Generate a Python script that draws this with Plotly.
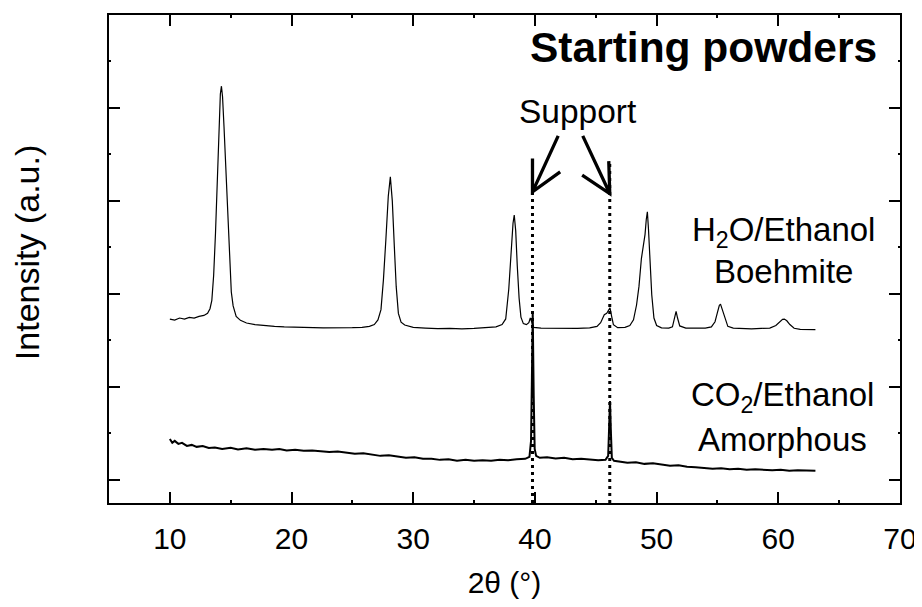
import plotly.graph_objects as go

# ---- data ----
two_theta_boehmite = [
    10.0, 10.4, 10.8, 11.2, 11.6, 12.0, 12.4, 12.8, 13.1, 13.3, 13.45, 13.6, 13.75, 13.9, 14.05,
    14.15, 14.24, 14.33, 14.45, 14.6, 14.75, 14.9, 15.05, 15.2, 15.45, 15.8, 16.3, 17.0, 17.8,
    18.6, 19.4, 20.2, 21.0, 21.8, 22.6, 23.4, 24.2, 25.0, 25.8, 26.4, 26.8, 27.1, 27.35, 27.55,
    27.75, 27.95, 28.12, 28.28, 28.45, 28.6, 28.78, 29.0, 29.3, 30.0, 31.0, 32.0, 33.0, 34.0,
    35.0, 36.0, 36.8, 37.3, 37.6, 37.85, 38.05, 38.2, 38.3, 38.42, 38.55, 38.7, 38.85, 39.05,
    39.3, 39.5, 39.62, 39.75, 39.9, 40.5, 41.5, 42.5, 43.5, 44.5, 45.1, 45.4, 45.7, 45.9, 46.05,
    46.17, 46.3, 46.45, 46.8, 47.4, 47.8, 48.1, 48.35, 48.55, 48.75, 48.9, 49.05, 49.15, 49.24,
    49.33, 49.45, 49.6, 49.78, 50.0, 50.4, 51.0, 51.3, 51.5, 51.6, 51.72, 51.9, 52.4, 53.2, 54.0,
    54.5, 54.8, 55.0, 55.15, 55.25, 55.4, 55.6, 55.85, 56.3, 57.0, 57.8, 58.6, 59.3, 59.8, 60.1,
    60.35, 60.5, 60.7, 60.95, 61.3, 61.8, 62.4, 63.05,
]
intensity_boehmite = [
    1729, 1718, 1740, 1729, 1747, 1740, 1758, 1768, 1790, 1840, 1930, 2200, 2650, 3250, 3900,
    4150, 4234, 4120, 3800, 3350, 2800, 2347, 2020, 1870, 1758, 1715, 1686, 1670, 1658,
    1651, 1645, 1640, 1642, 1636, 1634, 1632, 1632, 1636, 1640, 1651, 1670, 1720, 1830, 2150,
    2580, 3050, 3258, 3000, 2500, 2080, 1790, 1695, 1665, 1640, 1632, 1626, 1629, 1624,
    1629, 1634, 1645, 1670, 1730, 2050, 2480, 2760, 2848, 2680, 2300, 1954, 1750, 1680,
    1669, 1690, 1740, 1680, 1640, 1632, 1629, 1632, 1629, 1634, 1650, 1690, 1776, 1790, 1820,
    1850, 1760, 1669, 1636, 1640, 1660, 1720, 1880, 2080, 2380, 2526, 2640, 2800, 2883,
    2700, 2380, 1990, 1740, 1660, 1634, 1632, 1645, 1760, 1811, 1740, 1655, 1632, 1629, 1632,
    1645, 1700, 1800, 1875, 1890, 1835, 1740, 1650, 1632, 1626, 1624, 1629, 1632, 1660, 1700,
    1725, 1729, 1710, 1670, 1630, 1618, 1620, 1615,
]

two_theta_amorphous = [
    10.0, 10.2, 10.4, 10.7, 11.0, 11.4, 11.8, 12.2, 12.7, 13.2, 13.7, 14.3, 15.0, 15.6, 16.3,
    17.0, 17.7, 18.4, 19.0, 19.6, 20.3, 21.0, 21.7, 22.4, 23.1, 23.8, 24.5, 25.2, 25.9, 26.6,
    27.3, 28.0, 28.7, 29.4, 30.1, 30.8, 31.5, 32.2, 32.9, 33.6, 34.3, 35.0, 35.7, 36.4, 37.1,
    37.8, 38.5, 39.2, 39.55, 39.68, 39.75, 39.82, 39.9, 39.98, 40.1, 40.4, 41.0, 41.7, 42.4,
    43.1, 43.8, 44.5, 45.2, 45.8, 46.02, 46.1, 46.17, 46.24, 46.32, 46.5, 47.0, 47.6, 48.3,
    49.0, 49.7, 50.4, 51.1, 51.8, 52.5, 53.2, 53.9, 54.6, 55.3, 56.0, 56.7, 57.4, 58.1, 58.8,
    59.5, 60.2, 60.9, 61.6, 62.3, 63.05,
]
intensity_amorphous = [
    439, 397, 418, 386, 397, 364, 375, 354, 364, 343, 348, 332, 343, 327, 338,
    322, 332, 322, 332, 316, 322, 311, 316, 305, 300, 305, 289, 279, 284, 268,
    257, 263, 247, 236, 241, 225, 225, 214, 220, 204, 214, 204, 209, 204, 214,
    209, 220, 225, 247, 418, 1061, 1790, 900, 332, 257, 236, 241, 230, 236,
    220, 225, 214, 209, 214, 257, 579, 847, 525, 236, 204, 193, 182, 188,
    171, 177, 161, 150, 155, 139, 134, 129, 118, 123, 113, 118, 107, 113, 107,
    102, 107, 96, 102, 96, 96,
]

support_peaks = [39.8, 46.15]          # 2-theta of the support reflections
support_line_span = [-250, 3440]       # intensity span of the dotted guide lines
arrow_tip_intensity = [3097, 3079]     # where the "Support" arrows point
x_ticks = [10, 20, 30, 40, 50, 60, 70]

FONT = "Liberation Sans, Arial, Helvetica, sans-serif"

fig = go.Figure()

for p in support_peaks:
    fig.add_trace(go.Scatter(
        x=[p, p], y=support_line_span, mode="lines",
        line=dict(color="black", width=3, dash="3px,4px"),
        hoverinfo="skip"))

fig.add_trace(go.Scatter(
    x=two_theta_boehmite, y=intensity_boehmite, mode="lines",
    line=dict(color="black", width=1.2), name="H2O/Ethanol"))
fig.add_trace(go.Scatter(
    x=two_theta_amorphous, y=intensity_amorphous, mode="lines",
    line=dict(color="black", width=2.0), name="CO2/Ethanol"))

axis_common = dict(
    showline=True, linewidth=2, linecolor="black", mirror="ticks",
    ticks="inside", ticklen=11, tickwidth=2, tickcolor="black",
    showgrid=False, zeroline=False,
)

fig.update_xaxes(
    range=[5, 70], tickmode="array", tickvals=x_ticks,
    ticktext=[str(v) for v in x_ticks],
    tickfont=dict(size=30, family=FONT, color="black"),
    ticklabelstandoff=8,
    minor=dict(dtick=5, tick0=0, ticks="inside", ticklen=3, tickwidth=2,
               tickcolor="black", showgrid=False),
    title=dict(text="2θ (°)", font=dict(size=30, family=FONT, color="black"),
               standoff=18),
    **axis_common)

fig.update_yaxes(
    range=[-250, 5000], tick0=0, dtick=1000, showticklabels=False,
    minor=dict(dtick=500, tick0=0, ticks="inside", ticklen=2, tickwidth=2,
               tickcolor="black", showgrid=False),
    **axis_common)

txt = dict(size=33, family=FONT, color="black")


def label(x, y, text, size=None, xanchor="center", angle=0):
    f = dict(txt)
    if size:
        f["size"] = size
    return dict(x=x, y=y, xref="paper", yref="paper", xanchor=xanchor, yanchor="middle",
                text=text, showarrow=False, font=f, textangle=angle)


annotations = [
    label(0.9734, 0.9334, "<b>Starting powders</b>", size=42.5, xanchor="right"),
    label(0.5932, 0.8013, "Support", size=33.5),
    label(0.853, 0.5556, "H<sub>2</sub>O/Ethanol"),
    label(0.853, 0.4738, "Boehmite"),
    label(0.852, 0.2170, "CO<sub>2</sub>/Ethanol"),
    label(0.852, 0.1310, "Amorphous"),
    label(-0.1035, 0.5123, "Intensity (a.u.)", size=34, angle=-90),
]

# open V-shaped arrows (pixel offsets relative to the arrow tip)
arrow_paths = [
    "M25.7,56 L0,0 M0,33.3 L0,0 L27.7,20",
    "M-27,57.7 L0,0 M-1,32.4 L0,0 L-27.6,18.4",
]
shapes = []
for p, yi, path in zip(support_peaks, arrow_tip_intensity, arrow_paths):
    shapes.append(dict(
        type="path", xref="x", yref="y", xsizemode="pixel", ysizemode="pixel",
        xanchor=p, yanchor=yi, path=path,
        line=dict(color="black", width=3.3), fillcolor="rgba(0,0,0,0)"))

# the page body adds an 8px margin, so the figure is 8px smaller than the window
fig.update_layout(
    width=914, height=599,
    margin=dict(l=101, r=22, t=5, b=104),
    plot_bgcolor="white", paper_bgcolor="white",
    showlegend=False,
    font=dict(family=FONT, color="black"),
    annotations=annotations,
    shapes=shapes,
)

fig.write_html("out.html")
